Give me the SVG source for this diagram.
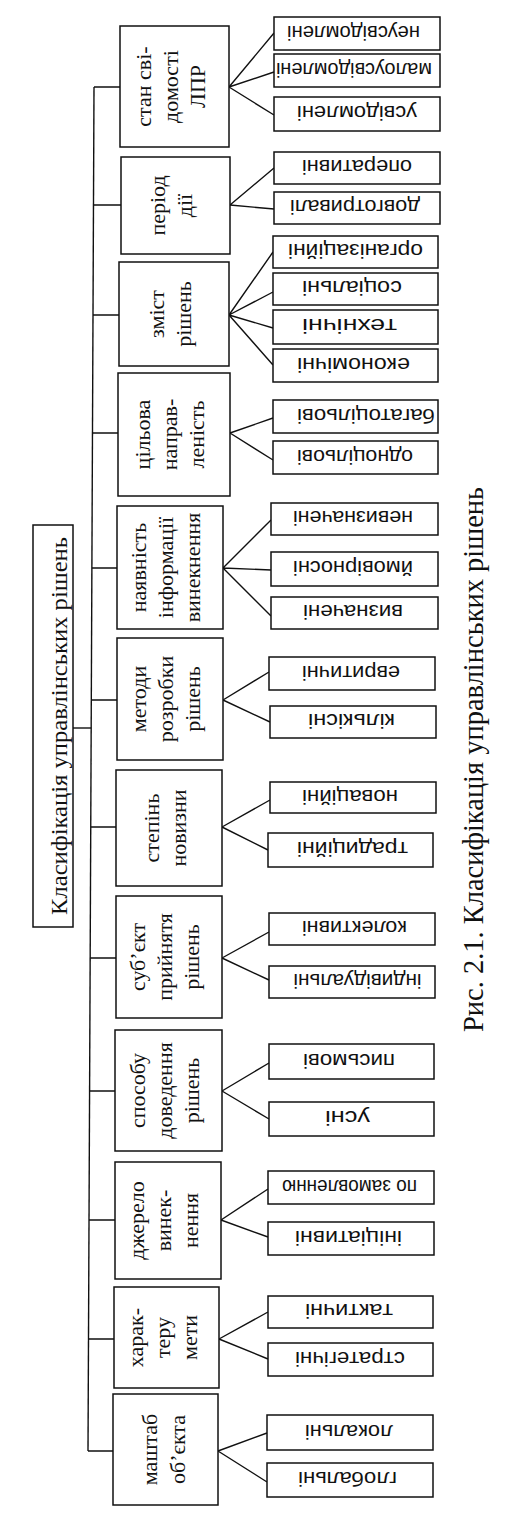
<svg xmlns="http://www.w3.org/2000/svg" width="511" height="1516" viewBox="0 0 511 1516">
<style>
.box{fill:#fff;stroke:#111;stroke-width:1.5}
.cat{font-family:"Liberation Serif",serif;font-size:22px;text-anchor:middle;fill:#111}
.leaf{font-family:"Liberation Sans",sans-serif;font-size:21px;text-anchor:middle;fill:#111}
.root{font-family:"Liberation Serif",serif;font-size:23px;text-anchor:middle;fill:#111}
.cap{font-family:"Liberation Serif",serif;font-size:29px;text-anchor:middle;fill:#111}
#connectors path{fill:none;stroke:#111;stroke-width:1.4}
</style>
<rect width="511" height="1516" fill="#fff"/>
<g id="connectors">
<path d="M94 87 L88 1451"/>
<path d="M73 728 L91.2 728"/>
<path d="M94 87 H120 M93.5 205 H121 M93 315 H119 M92.5 433 H118 M91.9 568 H117 M91.3 700 H117 M90.7 827 H116 M90.2 958 H116 M89.6 1091 H115 M89 1220 H115 M88.5 1339 H114 M88 1451 H113"/>
<path d="M229 87 L274 33 M229 87 L274 72 M229 87 L274 115"/>
<path d="M230 205 L274 168 M230 205 L274 209"/>
<path d="M229 315 L273 252 M229 315 L273 292 M229 315 L273 328 M229 315 L273 365"/>
<path d="M230 433 L273 418 M230 433 L273 460"/>
<path d="M223 568 L271 520 M223 568 L271 570 M223 568 L271 616"/>
<path d="M223 700 L269 672 M223 700 L270 722"/>
<path d="M222 827 L270 800 M222 827 L268 850"/>
<path d="M222 958 L269 932 M222 958 L269 980"/>
<path d="M222 1091 L269 1063 M222 1091 L269 1119"/>
<path d="M221 1220 L268 1189 M221 1220 L268 1237"/>
<path d="M219 1339 L268 1312 M219 1339 L268 1359"/>
<path d="M218 1451 L267 1433 M218 1451 L267 1482"/>
</g>
<g id="root">
<rect class="box" x="33" y="525" width="40" height="402"/>
<text class="root" transform="translate(67 726) rotate(-90)" textLength="378" lengthAdjust="spacingAndGlyphs">Класифікація управлінських рішень</text>
</g>
<g id="c1"><rect class="box" x="120" y="26" width="109" height="121"/>
<text class="cat" transform="translate(150.5 86.5) rotate(-90)">стан сві-</text>
<text class="cat" transform="translate(177.5 86.5) rotate(-90)">домості</text>
<text class="cat" transform="translate(204.5 86.5) rotate(-90)">ЛПР</text></g>
<g id="c2"><rect class="box" x="121" y="157" width="109" height="97"/>
<text class="cat" transform="translate(165 205.5) rotate(-90)">період</text>
<text class="cat" transform="translate(192 205.5) rotate(-90)">дії</text></g>
<g id="c3"><rect class="box" x="119" y="262" width="110" height="104"/>
<text class="cat" transform="translate(163.5 314) rotate(-90)">зміст</text>
<text class="cat" transform="translate(190.5 314) rotate(-90)">рішень</text></g>
<g id="c4"><rect class="box" x="118" y="373" width="112" height="123"/>
<text class="cat" transform="translate(150 434.5) rotate(-90)">цільова</text>
<text class="cat" transform="translate(177 434.5) rotate(-90)">направ-</text>
<text class="cat" transform="translate(204 434.5) rotate(-90)">леність</text></g>
<g id="c5"><rect class="box" x="117" y="506" width="106" height="123"/>
<text class="cat" transform="translate(146 567.5) rotate(-90)">наявність</text>
<text class="cat" transform="translate(173 567.5) rotate(-90)">інформації</text>
<text class="cat" transform="translate(200 567.5) rotate(-90)">винекнення</text></g>
<g id="c6"><rect class="box" x="117" y="638" width="106" height="122"/>
<text class="cat" transform="translate(146 699) rotate(-90)">методи</text>
<text class="cat" transform="translate(173 699) rotate(-90)">розробки</text>
<text class="cat" transform="translate(200 699) rotate(-90)">рішень</text></g>
<g id="c7"><rect class="box" x="116" y="770" width="106" height="116"/>
<text class="cat" transform="translate(158.5 828) rotate(-90)">степінь</text>
<text class="cat" transform="translate(185.5 828) rotate(-90)">новизни</text></g>
<g id="c8"><rect class="box" x="116" y="896" width="106" height="122"/>
<text class="cat" transform="translate(145 957) rotate(-90)">суб’єкт</text>
<text class="cat" transform="translate(172 957) rotate(-90)">прийнятя</text>
<text class="cat" transform="translate(199 957) rotate(-90)">рішень</text></g>
<g id="c9"><rect class="box" x="115" y="1030" width="107" height="121"/>
<text class="cat" transform="translate(144.5 1090.5) rotate(-90)">способу</text>
<text class="cat" transform="translate(171.5 1090.5) rotate(-90)">доведення</text>
<text class="cat" transform="translate(198.5 1090.5) rotate(-90)">рішень</text></g>
<g id="c10"><rect class="box" x="115" y="1162" width="106" height="117"/>
<text class="cat" transform="translate(144 1220.5) rotate(-90)">джерело</text>
<text class="cat" transform="translate(171 1220.5) rotate(-90)">винек-</text>
<text class="cat" transform="translate(198 1220.5) rotate(-90)">нення</text></g>
<g id="c11"><rect class="box" x="114" y="1287" width="105" height="101"/>
<text class="cat" transform="translate(142.5 1337.5) rotate(-90)">харак-</text>
<text class="cat" transform="translate(169.5 1337.5) rotate(-90)">теру</text>
<text class="cat" transform="translate(196.5 1337.5) rotate(-90)">мети</text></g>
<g id="c12"><rect class="box" x="113" y="1394" width="105" height="111"/>
<text class="cat" transform="translate(157 1449.5) rotate(-90)">маштаб</text>
<text class="cat" transform="translate(185 1449.5) rotate(-90)">об’єкта</text></g>
<g id="l1a"><rect class="box" x="274" y="17" width="166" height="33"/><text class="leaf" transform="translate(353.5 25.5) rotate(180)" textLength="133" lengthAdjust="spacingAndGlyphs">неусвідомлені</text></g>
<g id="l1b"><rect class="box" x="274" y="54" width="166" height="33"/><text class="leaf" transform="translate(354 62.5) rotate(180)" textLength="156" lengthAdjust="spacingAndGlyphs">малоусвідомлені</text></g>
<g id="l1c"><rect class="box" x="274" y="97" width="166" height="34"/><text class="leaf" transform="translate(357 106) rotate(180)" textLength="120" lengthAdjust="spacingAndGlyphs">усвідомлені</text></g>
<g id="l2a"><rect class="box" x="274" y="152" width="166" height="32"/><text class="leaf" transform="translate(357 160) rotate(180)" textLength="110" lengthAdjust="spacingAndGlyphs">оперативні</text></g>
<g id="l2b"><rect class="box" x="274" y="192" width="166" height="32"/><text class="leaf" transform="translate(355 200) rotate(180)" textLength="130" lengthAdjust="spacingAndGlyphs">довготривалі</text></g>
<g id="l3a"><rect class="box" x="273" y="236" width="165" height="32"/><text class="leaf" transform="translate(355.5 244) rotate(180)" textLength="135" lengthAdjust="spacingAndGlyphs">організаційні</text></g>
<g id="l3b"><rect class="box" x="273" y="273" width="165" height="32"/><text class="leaf" transform="translate(352 281) rotate(180)" textLength="100" lengthAdjust="spacingAndGlyphs">соціальні</text></g>
<g id="l3c"><rect class="box" x="273" y="310" width="165" height="34"/><text class="leaf" transform="translate(349.5 319) rotate(180)" textLength="95" lengthAdjust="spacingAndGlyphs">технічні</text></g>
<g id="l3d"><rect class="box" x="273" y="349" width="165" height="33"/><text class="leaf" transform="translate(353.5 357.5) rotate(180)" textLength="113" lengthAdjust="spacingAndGlyphs">економічні</text></g>
<g id="l4a"><rect class="box" x="273" y="400" width="165" height="33"/><text class="leaf" transform="translate(366 408.5) rotate(180)" textLength="138" lengthAdjust="spacingAndGlyphs">багатоцільові</text></g>
<g id="l4b"><rect class="box" x="273" y="441" width="165" height="33"/><text class="leaf" transform="translate(355 449.5) rotate(180)" textLength="116" lengthAdjust="spacingAndGlyphs">одноцільові</text></g>
<g id="l5a"><rect class="box" x="271" y="503" width="167" height="32"/><text class="leaf" transform="translate(353 511) rotate(180)" textLength="120" lengthAdjust="spacingAndGlyphs">невизначені</text></g>
<g id="l5b"><rect class="box" x="271" y="552" width="167" height="34"/><text class="leaf" transform="translate(353 561) rotate(180)" textLength="120" lengthAdjust="spacingAndGlyphs">ймовірносні</text></g>
<g id="l5c"><rect class="box" x="271" y="597" width="167" height="32"/><text class="leaf" transform="translate(353 605) rotate(180)" textLength="100" lengthAdjust="spacingAndGlyphs">визначені</text></g>
<g id="l6a"><rect class="box" x="269" y="657" width="166" height="33"/><text class="leaf" transform="translate(351 665.5) rotate(180)" textLength="98" lengthAdjust="spacingAndGlyphs">евритичні</text></g>
<g id="l6b"><rect class="box" x="270" y="706" width="166" height="32"/><text class="leaf" transform="translate(351.5 714) rotate(180)" textLength="87" lengthAdjust="spacingAndGlyphs">кількісні</text></g>
<g id="l7a"><rect class="box" x="270" y="782" width="166" height="31"/><text class="leaf" transform="translate(350 789.5) rotate(180)" textLength="96" lengthAdjust="spacingAndGlyphs">новаційні</text></g>
<g id="l7b"><rect class="box" x="268" y="833" width="165" height="34"/><text class="leaf" transform="translate(352.5 842) rotate(180)" textLength="111" lengthAdjust="spacingAndGlyphs">традиційні</text></g>
<g id="l8a"><rect class="box" x="269" y="913" width="166" height="32"/><text class="leaf" transform="translate(354.5 921) rotate(180)" textLength="105" lengthAdjust="spacingAndGlyphs">колективні</text></g>
<g id="l8b"><rect class="box" x="269" y="966" width="166" height="32"/><text class="leaf" transform="translate(357.5 974) rotate(180)" textLength="128" lengthAdjust="spacingAndGlyphs">індивідуальні</text></g>
<g id="l9a"><rect class="box" x="269" y="1044" width="165" height="35"/><text class="leaf" transform="translate(349 1053.5) rotate(180)" textLength="92" lengthAdjust="spacingAndGlyphs">письмові</text></g>
<g id="l9b"><rect class="box" x="269" y="1102" width="165" height="34"/><text class="leaf" transform="translate(347.5 1111) rotate(180)" textLength="45" lengthAdjust="spacingAndGlyphs">усні</text></g>
<g id="l10a"><rect class="box" x="268" y="1171" width="166" height="33"/><text class="leaf" transform="translate(349.5 1179.5) rotate(180)" textLength="135" lengthAdjust="spacingAndGlyphs">по замовленню</text></g>
<g id="l10b"><rect class="box" x="268" y="1222" width="166" height="33"/><text class="leaf" transform="translate(348.5 1230.5) rotate(180)" textLength="107" lengthAdjust="spacingAndGlyphs">ініціативні</text></g>
<g id="l11a"><rect class="box" x="268" y="1296" width="165" height="32"/><text class="leaf" transform="translate(349 1304) rotate(180)" textLength="88" lengthAdjust="spacingAndGlyphs">тактичні</text></g>
<g id="l11b"><rect class="box" x="268" y="1343" width="165" height="33"/><text class="leaf" transform="translate(350 1351.5) rotate(180)" textLength="110" lengthAdjust="spacingAndGlyphs">стратегічні</text></g>
<g id="l12a"><rect class="box" x="267" y="1415" width="166" height="35"/><text class="leaf" transform="translate(349 1424.5) rotate(180)" textLength="88" lengthAdjust="spacingAndGlyphs">локальні</text></g>
<g id="l12b"><rect class="box" x="267" y="1463" width="166" height="34"/><text class="leaf" transform="translate(347.5 1472) rotate(180)" textLength="99" lengthAdjust="spacingAndGlyphs">глобальні</text></g>
<g id="caption">
<text class="cap" transform="translate(483 759.5) rotate(-90)" textLength="545" lengthAdjust="spacingAndGlyphs">Рис. 2.1. Класифікація управлінських рішень</text>
</g>
</svg>
